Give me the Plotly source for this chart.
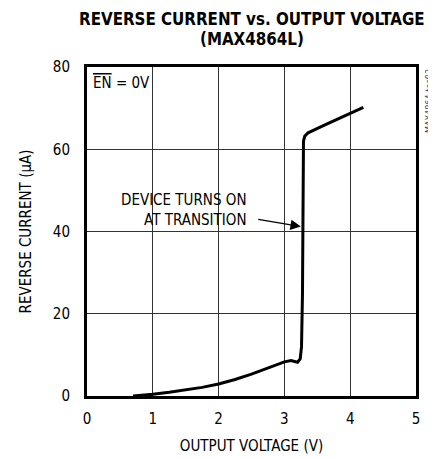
import plotly.graph_objects as go

# ---- data ----
voltage = [0.7, 0.9, 1.0, 1.25, 1.5, 1.75, 2.0, 2.25, 2.5, 2.75, 3.0, 3.1, 3.2,
           3.24, 3.26, 3.275, 3.285, 3.29, 3.31, 3.36, 3.6, 3.8, 4.0, 4.2]
current = [0.0, 0.2, 0.4, 0.9, 1.5, 2.1, 2.9, 4.0, 5.3, 6.8, 8.3, 8.6, 8.2,
           9.0, 12.0, 25.0, 45.0, 62.0, 63.2, 64.0, 65.8, 67.3, 68.8, 70.2]

x_ticks = [0, 1, 2, 3, 4, 5]
y_ticks = [0, 20, 40, 60, 80]

title_line1 = "REVERSE CURRENT vs. OUTPUT VOLTAGE"
title_line2 = "(MAX4864L)"
x_title = "OUTPUT VOLTAGE (V)"
y_title = "REVERSE CURRENT (µA)"
note_text = "DEVICE TURNS ON<br>AT TRANSITION"
cond_text = "<span style='text-decoration:overline'>EN</span> = 0V"
side_text = "MAX4864 toc03"

FONT = "DejaVu Sans Condensed, Liberation Sans Narrow, sans-serif"

fig = go.Figure()
fig.add_trace(go.Scatter(x=voltage, y=current, mode="lines",
                         line=dict(color="black", width=3),
                         hoverinfo="skip", showlegend=False))

axis_common = dict(showline=True, linecolor="black", linewidth=3, mirror=True,
                   showgrid=True, gridcolor="#333333", gridwidth=1,
                   zeroline=False, ticks="", fixedrange=True, automargin=False,
                   tickfont=dict(family=FONT, size=15, color="black"))

fig.update_xaxes(range=[0, 5], tickvals=x_ticks, ticklabelstandoff=7,
                 title=dict(text=x_title, font=dict(family=FONT, size=15, color="black"),
                            standoff=14),
                 **axis_common)
fig.update_yaxes(range=[0, 80], tickvals=y_ticks, ticklabelstandoff=11,
                 title=dict(text=y_title, font=dict(family=FONT, size=15, color="black"),
                            standoff=18),
                 **axis_common)

fig.add_annotation(x=2.46, y=45.3, xref="x", yref="y", text=note_text,
                   showarrow=False, xanchor="right", yanchor="middle", align="right",
                   font=dict(family=FONT, size=15, color="black"))
fig.add_annotation(x=3.25, y=41.2, ax=2.58, ay=43.0, xref="x", yref="y",
                   axref="x", ayref="y", text="", showarrow=True,
                   arrowhead=2, arrowsize=1.6, arrowwidth=1.3, arrowcolor="black")
fig.add_annotation(x=0.06, y=78.8, xref="x", yref="y", text=cond_text,
                   showarrow=False, xanchor="left", yanchor="top",
                   font=dict(family=FONT, size=15, color="black"))
fig.add_annotation(x=1.0, y=1.0, xref="paper", yref="paper", text=side_text,
                   showarrow=False, xanchor="center", yanchor="top", textangle=-90,
                   xshift=13, yshift=0,
                   font=dict(family=FONT, size=9, color="#444444"))

# title lines
fig.add_annotation(x=0.5, y=1.0, xref="paper", yref="paper", text="<b>" + title_line1 + "</b>",
                   showarrow=False, xanchor="center", yanchor="middle", yshift=48,
                   font=dict(family=FONT, size=16.8, color="black"))
fig.add_annotation(x=0.5, y=1.0, xref="paper", yref="paper", text="<b>" + title_line2 + "</b>",
                   showarrow=False, xanchor="center", yanchor="middle", yshift=28,
                   font=dict(family=FONT, size=16.8, color="black"))

# the page places the figure 8px in from the top-left corner
fig.update_layout(
    width=428, height=451,
    margin=dict(l=79, r=20, t=59, b=63),
    paper_bgcolor="white", plot_bgcolor="white",
)

fig.write_html("out.html")
